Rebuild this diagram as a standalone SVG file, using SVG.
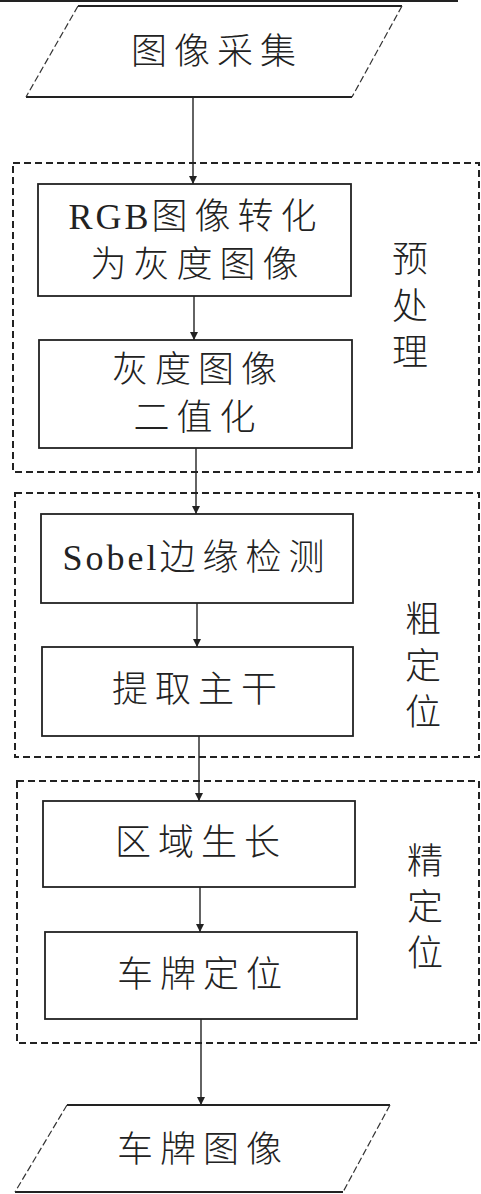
<svg xmlns="http://www.w3.org/2000/svg" width="481" height="1194" viewBox="0 0 481 1194">
<style>
.bg{fill:#fff}
.box{fill:#fff;stroke:#222;stroke-width:1.8}
.io-edge{stroke:#222;stroke-width:1.8;fill:none}
.io-side{stroke:#333;stroke-width:1.2;fill:none;stroke-dasharray:7 3}
.grp{fill:none;stroke:#222;stroke-width:2;stroke-dasharray:7 4}
.conn{stroke:#222;stroke-width:1.4;fill:none;marker-end:url(#arr)}
.t{font-family:"Liberation Serif","Noto Sans CJK SC",serif;font-size:36px;font-weight:300;fill:#222;text-anchor:middle;dominant-baseline:central;letter-spacing:7px}
.lat{letter-spacing:3px}
.side{font-family:"Liberation Serif","Noto Sans CJK SC",serif;font-size:36px;font-weight:300;fill:#222;text-anchor:middle;dominant-baseline:central}
</style>
<defs>
<marker id="arr" markerWidth="8" markerHeight="8" refX="8" refY="4" orient="auto" markerUnits="userSpaceOnUse">
<path d="M0,0 L8,4 L0,8 z" fill="#222"/>
</marker>
</defs>
<rect class="bg" x="0" y="0" width="481" height="1194"/>
<line x1="0" y1="1" x2="458" y2="1" stroke="#222" stroke-width="2"/>

<g id="group-preprocess">
<rect class="grp" x="13" y="163" width="466" height="309"/>
<text class="side" x="410" y="260">预</text>
<text class="side" x="410" y="307">处</text>
<text class="side" x="410" y="353">理</text>
</g>
<g id="group-coarse">
<rect class="grp" x="15" y="493" width="464" height="264"/>
<text class="side" x="423" y="620">粗</text>
<text class="side" x="423" y="667">定</text>
<text class="side" x="423" y="713">位</text>
</g>
<g id="group-fine">
<rect class="grp" x="17" y="781" width="462" height="262"/>
<text class="side" x="425" y="862">精</text>
<text class="side" x="425" y="908">定</text>
<text class="side" x="425" y="954">位</text>
</g>

<g id="connectors">
<line class="conn" x1="193" y1="97" x2="193" y2="184"/>
<line class="conn" x1="194" y1="296" x2="194" y2="340"/>
<line class="conn" x1="196" y1="448" x2="196" y2="514"/>
<line class="conn" x1="197" y1="603" x2="197" y2="647"/>
<line class="conn" x1="199" y1="736" x2="199" y2="801"/>
<line class="conn" x1="200" y1="887" x2="200" y2="932"/>
<line class="conn" x1="201" y1="1019" x2="201" y2="1105"/>
</g>

<g id="node-input">
<polygon points="78,6 402,6 352,97 26,97" fill="#fff" stroke="none"/>
<line class="io-edge" x1="78" y1="6" x2="402" y2="6"/>
<line class="io-edge" x1="26" y1="97" x2="352" y2="97"/>
<line class="io-side" x1="78" y1="6" x2="26" y2="97"/>
<line class="io-side" x1="402" y1="6" x2="352" y2="97"/>
<text class="t" x="217" y="52">图像采集</text>
</g>

<g id="node-rgb2gray">
<rect class="box" x="38" y="184" width="313" height="112"/>
<text class="t" x="196" y="217"><tspan class="lat">RGB</tspan>图像转化</text>
<text class="t" x="198" y="265">为灰度图像</text>
</g>

<g id="node-binarize">
<rect class="box" x="39" y="340" width="313" height="108"/>
<text class="t" x="198" y="370">灰度图像</text>
<text class="t" x="198" y="418">二值化</text>
</g>

<g id="node-sobel">
<rect class="box" x="41" y="514" width="312" height="89"/>
<text class="t" x="197" y="558"><tspan class="lat">Sobel</tspan>边缘检测</text>
</g>

<g id="node-trunk">
<rect class="box" x="42" y="647" width="311" height="89"/>
<text class="t" x="198" y="690">提取主干</text>
</g>

<g id="node-region">
<rect class="box" x="43" y="801" width="312" height="86"/>
<text class="t" x="201" y="843">区域生长</text>
</g>

<g id="node-locate">
<rect class="box" x="45" y="932" width="312" height="87"/>
<text class="t" x="203" y="975">车牌定位</text>
</g>

<g id="node-output">
<polygon points="67,1105 390,1105 343,1192 15,1192" fill="#fff" stroke="none"/>
<line class="io-edge" x1="67" y1="1105" x2="390" y2="1105"/>
<line class="io-edge" x1="15" y1="1192" x2="343" y2="1192"/>
<line class="io-side" x1="67" y1="1105" x2="15" y2="1192"/>
<line class="io-side" x1="390" y1="1105" x2="343" y2="1192"/>
<text class="t" x="203" y="1150">车牌图像</text>
</g>
</svg>
